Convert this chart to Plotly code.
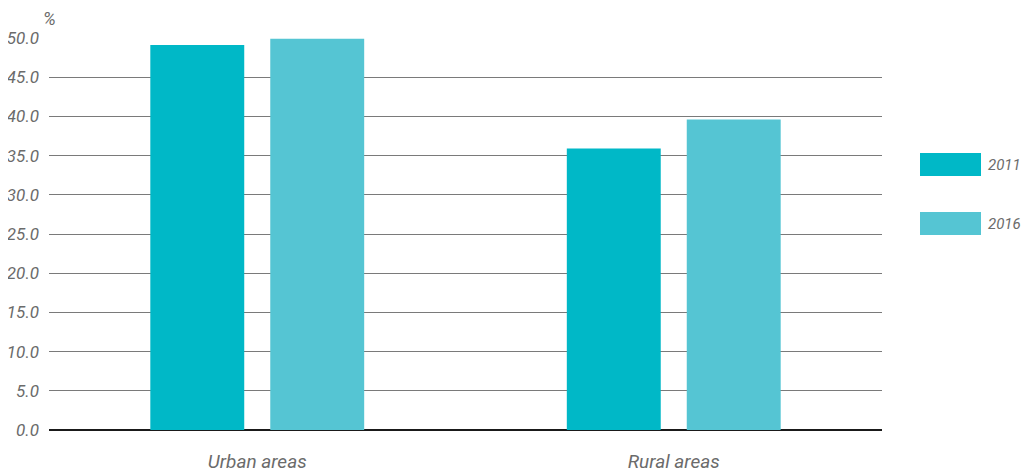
import plotly.graph_objects as go

categories = ["Urban areas", "Rural areas"]
years = ["2011", "2016"]
values_2011 = [49.1, 35.9]
values_2016 = [49.9, 39.6]
colors = ["#00B8C7", "#55C5D3"]
tick_vals = [0, 5, 10, 15, 20, 25, 30, 35, 40, 45, 50]
tick_text = [f"{v:.1f}" for v in tick_vals]

FONT = "Liberation Sans Narrow, Arial Narrow, Roboto, sans-serif"
GREY = "#6b6b6b"

# page body has an 8px offset; margins compensate so the plot lands at 49..882 x 38..430
L, R, T, B = 41, 156, 30, 52
W, H = 1030, 474
plot_w = W - L - R
plot_h = H - T - B

fig = go.Figure()
for yr, vals, col in zip(years, [values_2011, values_2016], colors):
    fig.add_trace(go.Bar(x=categories, y=vals, name=yr, marker=dict(color=col, line=dict(width=0))))

fig.update_layout(
    width=W, height=H,
    margin=dict(l=L, r=R, t=T, b=B, autoexpand=False),
    paper_bgcolor="white", plot_bgcolor="white",
    barmode="group", bargap=0.424, bargroupgap=0.217,
    showlegend=False,
    font=dict(family=FONT, color=GREY, size=16),
    xaxis=dict(showgrid=False, showline=False, ticks="", zeroline=False,
               ticklabelstandoff=18,
               tickfont=dict(family=FONT, size=19, color=GREY, style="italic")),
    yaxis=dict(range=[0, 50], tickvals=tick_vals, ticktext=tick_text,
               showgrid=True, gridcolor="#7a7a7a", gridwidth=1,
               zeroline=True, zerolinecolor="#1a1a1a", zerolinewidth=2,
               showline=False, ticks="", ticklabelstandoff=9,
               tickfont=dict(family=FONT, size=17, color=GREY, style="italic")),
)

fig.add_annotation(xref="paper", yref="paper", x=-0.01, y=1.0, yshift=7, text="%",
                   showarrow=False, xanchor="left", yanchor="bottom",
                   font=dict(family=FONT, size=18, color=GREY, style="italic"))

# legend swatches (page pixel positions converted to paper coords)
def px_x(px):
    return (px - 8 - L) / plot_w

def px_y(py):
    return 1 - (py - 8 - T) / plot_h

leg_y = [164.5, 223.5]
for yr, col, yc in zip(years, colors, leg_y):
    fig.add_shape(type="rect", xref="paper", yref="paper",
                  x0=px_x(920), x1=px_x(981), y0=px_y(yc + 11.5), y1=px_y(yc - 11.5),
                  fillcolor=col, line=dict(width=0))
    fig.add_annotation(xref="paper", yref="paper", x=px_x(986), y=px_y(yc),
                       text=yr, showarrow=False, xanchor="left", yanchor="middle",
                       font=dict(family=FONT, size=15, color=GREY, style="italic"))

fig.write_html("out.html")
